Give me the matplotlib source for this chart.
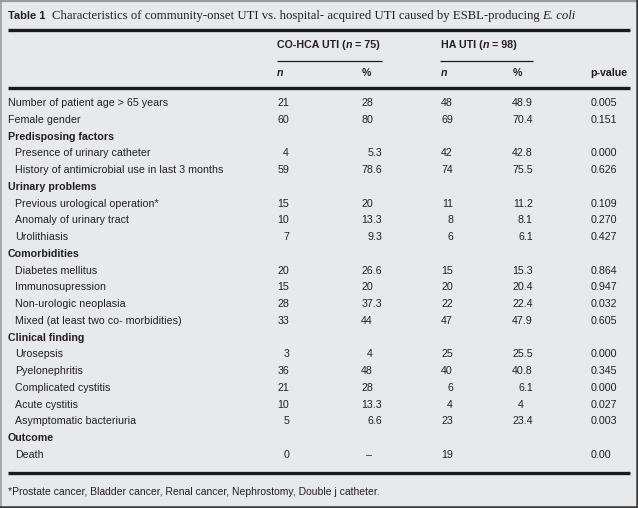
import matplotlib
matplotlib.use("Agg")
import matplotlib.pyplot as plt
from matplotlib.lines import Line2D

# Table contents
labels = [
    "Number of patient age > 65 years", "Female gender",
    "Predisposing factors",
    "Presence of urinary catheter", "History of antimicrobial use in last 3 months",
    "Urinary problems",
    "Previous urological operation*", "Anomaly of urinary tract", "Urolithiasis",
    "Comorbidities",
    "Diabetes mellitus", "Immunosupression", "Non-urologic neoplasia",
    "Mixed (at least two co- morbidities)",
    "Clinical finding",
    "Urosepsis", "Pyelonephritis", "Complicated cystitis", "Acute cystitis",
    "Asymptomatic bacteriuria",
    "Outcome",
    "Death",
]
# 0 = plain top-level row, 1 = section heading, 2 = indented item
row_kind = [0, 0, 1, 2, 2, 1, 2, 2, 2, 1, 2, 2, 2, 2, 1, 2, 2, 2, 2, 2, 1, 2]
co_n = ["21", "60", "", "4", "59", "", "15", "10", "7", "", "20", "15", "28", "33",
        "", "3", "36", "21", "10", "5", "", "0"]
co_pct = ["28", "80", "", "5.3", "78.6", "", "20", "13.3", "9.3", "", "26.6", "20", "37.3", "44",
          "", "4", "48", "28", "13.3", "6.6", "", "–"]
ha_n = ["48", "69", "", "42", "74", "", "11", "8", "6", "", "15", "20", "22", "47",
        "", "25", "40", "6", "4", "23", "", "19"]
ha_pct = ["48.9", "70.4", "", "42.8", "75.5", "", "11.2", "8.1", "6.1", "", "15.3", "20.4", "22.4", "47.9",
          "", "25.5", "40.8", "6.1", "4", "23.4", "", ""]
p_values = ["0.005", "0.151", "", "0.000", "0.626", "", "0.109", "0.270", "0.427", "", "0.864", "0.947",
            "0.032", "0.605", "", "0.000", "0.345", "0.000", "0.027", "0.003", "", "0.00"]

title_label = "Table 1"
title_text = "Characteristics of community-onset UTI vs. hospital- acquired UTI caused by ESBL-producing "
title_italic = "E. coli"
footnote = "*Prostate cancer, Bladder cancer, Renal cancer, Nephrostomy, Double j catheter."

W, H = 638, 508
BG = "#e8e9eb"
INK = "#231f20"
SANS = ["Liberation Sans", "DejaVu Sans"]
SERIF = ["Liberation Serif", "DejaVu Serif"]
FS = 7.7

fig = plt.figure(figsize=(W / 100, H / 100), dpi=100, facecolor=BG)
ax = fig.add_axes([0, 0, 1, 1])
ax.set_xlim(0, W)
ax.set_ylim(H, 0)
ax.axis("off")

# frame
ax.add_line(Line2D([0.5, W - 1], [0.8, 0.8], color="#9a9a9a", lw=1.6))
ax.add_line(Line2D([0.6, 0.6], [0, H - 1], color="#9a9a9a", lw=1.2))
ax.add_line(Line2D([0, W], [H - 1.2, H - 1.2], color="#3a3a3a", lw=1.8))
ax.add_line(Line2D([W - 1.5, W - 1.5], [0, H], color="#3a3a3a", lw=1.8))

fig.canvas.draw()
renderer = fig.canvas.get_renderer()


def chain(x0, y, pieces):
    # place text pieces one after another, measuring each
    xx = x0
    for s, fam, wt, st, size in pieces:
        t = ax.text(xx, y, s, family=fam, weight=wt, style=st, fontsize=size,
                    color=INK, va="center", ha="left")
        xx += t.get_window_extent(renderer).width


# title
chain(8, 16, [(title_label + "  ", SANS, "bold", "normal", 8.0),
              (title_text, SERIF, "normal", "normal", 9.2),
              (title_italic, SERIF, "normal", "italic", 9.2)])


# rules
def hline(y, x0, x1, lw):
    ax.add_line(Line2D([x0, x1], [y, y], color="#1a1a1a", lw=lw, solid_capstyle="butt"))


hline(30, 8, 630, 2.4)
hline(60.5, 277, 382, 0.9)
hline(60.5, 440, 533, 0.9)
hline(88, 8, 630, 2.4)
hline(473, 8, 630, 2.4)

# column headers
chain(277, 45, [("CO-HCA UTI (", SANS, "bold", "normal", FS), ("n", SANS, "bold", "italic", FS),
                (" = 75)", SANS, "bold", "normal", FS)])
chain(441, 45, [("HA UTI (", SANS, "bold", "normal", FS), ("n", SANS, "bold", "italic", FS),
                (" = 98)", SANS, "bold", "normal", FS)])
for xh, s, st in [(277, "n", "italic"), (362, "%", "normal"), (441, "n", "italic"),
                  (513, "%", "normal"), (590, "p-value", "normal")]:
    ax.text(xh, 73, s, family=SANS, weight="bold", style=st, fontsize=FS,
            color=INK, va="center", ha="left")

# body
y0, pitch = 103, 16.76
frac_w = {}


def decimal_text(xdot, y, s):
    # align on the decimal point: shift a right-aligned string by the width of its fraction
    if s == "":
        return
    if s == "–":
        ax.text(xdot - 4, y, s, family=SANS, fontsize=FS, color=INK, va="center", ha="center")
        return
    whole, _, frac = s.partition(".")
    shift = 0
    if frac:
        key = "." + frac
        if key not in frac_w:
            tmp = ax.text(0, 0, "0" + key, family=SANS, fontsize=FS)
            tmp2 = ax.text(0, 0, "0", family=SANS, fontsize=FS)
            frac_w[key] = (tmp.get_window_extent(renderer).width
                           - tmp2.get_window_extent(renderer).width)
            tmp.remove()
            tmp2.remove()
        shift = frac_w[key]
    ax.text(xdot + shift, y, s, family=SANS, fontsize=FS, color=INK, va="center", ha="right")


for i, lab in enumerate(labels):
    y = y0 + i * pitch
    kind = row_kind[i]
    if kind == 1:
        ax.text(8, y, lab, family=SANS, weight="bold", fontsize=FS, color=INK, va="center")
        continue
    ax.text(8 if kind == 0 else 15, y, lab, family=SANS, fontsize=FS, color=INK, va="center")
    ax.text(289, y, co_n[i], family=SANS, fontsize=FS, color=INK, va="center", ha="right")
    decimal_text(373, y, co_pct[i])
    ax.text(453, y, ha_n[i], family=SANS, fontsize=FS, color=INK, va="center", ha="right")
    decimal_text(524, y, ha_pct[i])
    ax.text(591, y, p_values[i], family=SANS, fontsize=FS, color=INK, va="center", ha="left")

ax.text(8, 492, footnote, family=SANS, fontsize=FS - 0.2, color=INK, va="center")

fig.savefig("out.png", dpi=100, facecolor=BG)
